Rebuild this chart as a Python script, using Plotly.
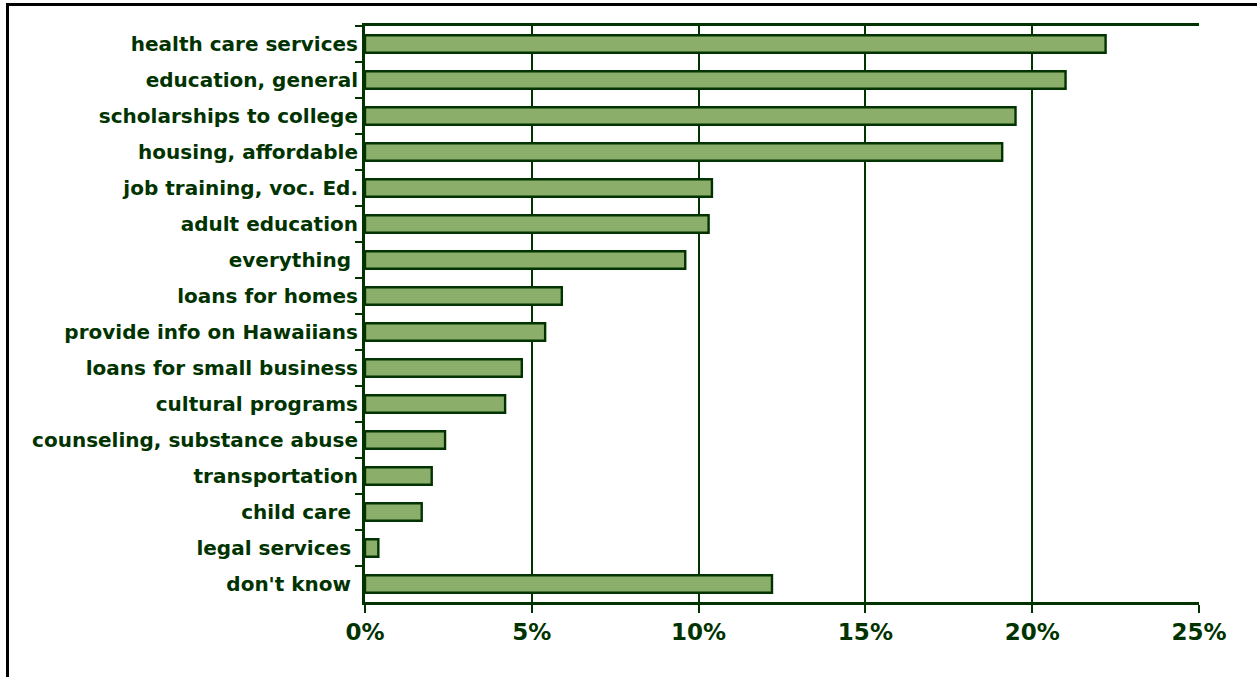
import plotly.graph_objects as go

# Survey responses: share of mentions for each service (percent)
categories = [
    "health care services",
    "education, general",
    "scholarships to college",
    "housing, affordable",
    "job training, voc. Ed.",
    "adult education",
    "everything ",
    "loans for homes",
    "provide info on Hawaiians",
    "loans for small business",
    "cultural programs",
    "counseling, substance abuse",
    "transportation",
    "child care ",
    "legal services ",
    "don't know ",
]
shares = [22.2, 21.0, 19.5, 19.1, 10.4, 10.3, 9.6, 5.9, 5.4, 4.7, 4.2, 2.4, 2.0, 1.7, 0.4, 12.2]
x_ticks = [0, 5, 10, 15, 20, 25]
x_tick_labels = ["0%", "5%", "10%", "15%", "20%", "25%"]

DARK = "#003300"
FILL = "#8cae6b"
FONT = "DejaVu Sans"

fig = go.Figure(
    go.Bar(
        x=shares,
        y=categories,
        orientation="h",
        width=0.49,
        marker=dict(color=FILL, line=dict(color=DARK, width=2.4)),
        hoverinfo="x+y",
    )
)

W, H = 1257, 677
ML, MR, MT, MB = 365, 58, 26, 75

fig.update_layout(
    width=W,
    height=H,
    margin=dict(l=ML, r=MR, t=MT, b=MB, pad=0),
    paper_bgcolor="white",
    plot_bgcolor="white",
    showlegend=False,
    font=dict(family=FONT, color=DARK),
    xaxis=dict(
        range=[0, 25],
        tickvals=x_ticks,
        ticktext=x_tick_labels,
        tickfont=dict(family=FONT, size=23, color=DARK, weight="bold"),
        showgrid=True,
        gridcolor=DARK,
        gridwidth=2.2,
        zeroline=False,
        showline=True,
        linecolor=DARK,
        linewidth=2.5,
        mirror=True,
        ticks="outside",
        ticklen=8,
        tickwidth=2,
        tickcolor=DARK,
        fixedrange=True,
    ),
    yaxis=dict(
        type="category",
        autorange="reversed",
        tickson="boundaries",
        ticks="outside",
        ticklen=7,
        tickwidth=2,
        tickcolor=DARK,
        tickfont=dict(family=FONT, size=20, color=DARK, weight="bold"),
        showgrid=False,
        showline=True,
        linecolor=DARK,
        linewidth=3,
        mirror=False,
        fixedrange=True,
    ),
)

# Outer frame of the figure: heavy black rule along the top and left edges
pw = W - ML - MR
ph = H - MT - MB
def px_x(p):
    return (p - ML) / pw
def px_y(p):
    return 1 - (p - MT) / ph

fig.add_shape(type="line", xref="paper", yref="paper",
              x0=px_x(6), x1=px_x(W + 5), y0=px_y(4.5), y1=px_y(4.5),
              line=dict(color="black", width=3))
fig.add_shape(type="line", xref="paper", yref="paper",
              x0=px_x(7.5), x1=px_x(7.5), y0=px_y(3), y1=px_y(H + 5),
              line=dict(color="black", width=3))

fig.write_html("out.html")
